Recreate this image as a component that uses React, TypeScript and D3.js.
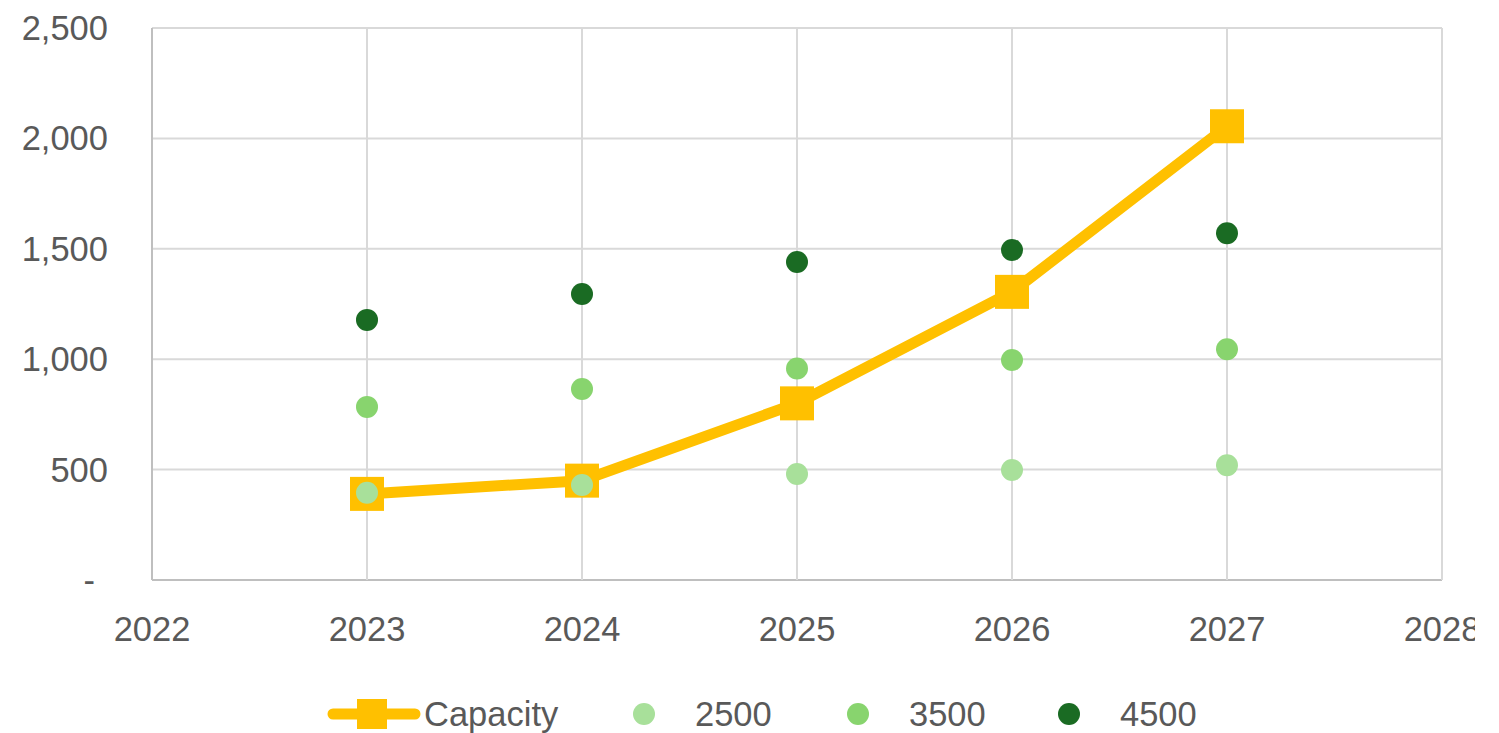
import React from "react";
import * as d3 from "d3";

const years = [2023, 2024, 2025, 2026, 2027];
const capacity = [390, 450, 800, 1305, 2055];
const s2500 = [395, 430, 480, 498, 520];
const s3500 = [784, 865, 958, 996, 1045];
const s4500 = [1178, 1295, 1440, 1495, 1570];
const yTicks = [0, 500, 1000, 1500, 2000, 2500];
const xTicks = [2022, 2023, 2024, 2025, 2026, 2027, 2028];

const W = 1499;
const H = 733;
const left = 152;
const right = 1442;
const top = 28;
const bottom = 580;

const ORANGE = "#FFC000";
const C2500 = "#A8E09A";
const C3500 = "#88D46E";
const C4500 = "#1A6B23";
const TXT = "#595959";
const GRID = "#D9D9D9";
const FONT = "'Liberation Sans', Arial, sans-serif";
const FS = 34.5;

export default function App() {
  const x = d3.scaleLinear().domain([2022, 2028]).range([left, right]);
  const y = d3.scaleLinear().domain([0, 2500]).range([bottom, top]);
  const fmt = d3.format(",");
  const line = d3
    .line<number>()
    .x((_, i) => x(years[i]))
    .y((d) => y(d));
  const dotSeries = [
    { name: "2500", values: s2500, color: C2500 },
    { name: "3500", values: s3500, color: C3500 },
    { name: "4500", values: s4500, color: C4500 },
  ];
  const sq = 34;
  return (
    <svg
      width={W}
      height={H}
      style={{ position: "absolute", left: 0, top: 0, background: "#fff" }}
    >
      <defs>
        <clipPath id="clip">
          <rect x={0} y={0} width={1475} height={H} />
        </clipPath>
      </defs>
      <g clipPath="url(#clip)">
        <rect x={0} y={0} width={W} height={H} fill="#fff" />
        {yTicks.map((t) => (
          <line
            key={"gy" + t}
            x1={left}
            x2={right}
            y1={y(t)}
            y2={y(t)}
            stroke={t === 0 ? "#BFBFBF" : GRID}
            strokeWidth={2}
          />
        ))}
        {xTicks.map((t) => (
          <line
            key={"gx" + t}
            x1={x(t)}
            x2={x(t)}
            y1={top}
            y2={bottom}
            stroke={t === 2022 ? "#BFBFBF" : GRID}
            strokeWidth={2}
          />
        ))}
        {yTicks.map((t) => (
          <text
            key={"ly" + t}
            x={t === 0 ? 95 : 108}
            y={y(t)}
            dy="0.35em"
            textAnchor="end"
            fontFamily={FONT}
            fontSize={FS}
            fill={TXT}
          >
            {t === 0 ? "-" : fmt(t)}
          </text>
        ))}
        {xTicks.map((t) => (
          <text
            key={"lx" + t}
            x={x(t)}
            y={641}
            textAnchor="middle"
            fontFamily={FONT}
            fontSize={FS}
            fill={TXT}
          >
            {t}
          </text>
        ))}
        <path
          d={line(capacity) || ""}
          fill="none"
          stroke={ORANGE}
          strokeWidth={11}
          strokeLinejoin="round"
        />
        {capacity.map((v, i) => (
          <rect
            key={"sq" + i}
            x={x(years[i]) - sq / 2}
            y={y(v) - sq / 2}
            width={sq}
            height={sq}
            fill={ORANGE}
          />
        ))}
        {dotSeries.map((s) =>
          s.values.map((v, i) => (
            <circle
              key={s.name + i}
              cx={x(years[i])}
              cy={y(v)}
              r={11}
              fill={s.color}
            />
          ))
        )}
        {/* Legend */}
        <g>
          <line
            x1={333}
            x2={415}
            y1={714}
            y2={714}
            stroke={ORANGE}
            strokeWidth={11}
            strokeLinecap="round"
          />
          <rect x={372 - 15} y={714 - 15} width={30} height={30} fill={ORANGE} />
          <text x={424} y={726} fontFamily={FONT} fontSize={FS} fill={TXT}>
            Capacity
          </text>
          {dotSeries.map((s, i) => {
            const cx = [644, 858, 1069][i];
            return (
              <g key={"lg" + s.name}>
                <circle cx={cx} cy={714} r={11} fill={s.color} />
                <text
                  x={cx + 51}
                  y={726}
                  fontFamily={FONT}
                  fontSize={FS}
                  fill={TXT}
                >
                  {s.name}
                </text>
              </g>
            );
          })}
        </g>
      </g>
    </svg>
  );
}
